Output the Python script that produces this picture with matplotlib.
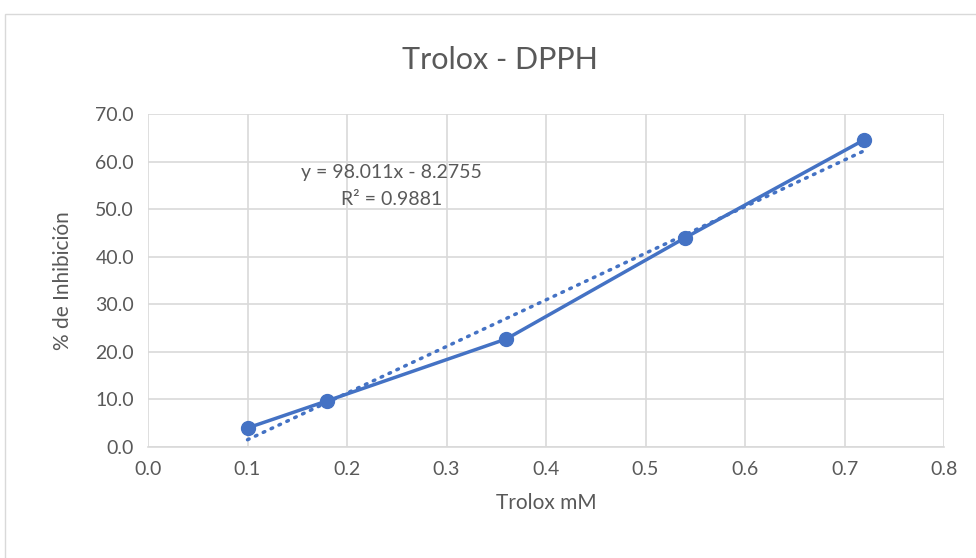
import matplotlib.pyplot as plt
import numpy as np
from matplotlib.patches import Rectangle

# ----- data ------------------------------------------------------------------
conc = [0.1, 0.18, 0.36, 0.54, 0.72]          # Trolox mM
inhib = [4.0, 9.7, 22.7, 44.0, 64.6]          # % de Inhibición
slope = 98.011
intercept = -8.2755
r2 = 0.9881
xticks = [0.0, 0.1, 0.2, 0.3, 0.4, 0.5, 0.6, 0.7, 0.8]
yticks = [0.0, 10.0, 20.0, 30.0, 40.0, 50.0, 60.0, 70.0]
# -----------------------------------------------------------------------------

blue = '#4472C4'
grey_txt = '#595959'
grid_c = '#D9D9D9'
plt.rcParams['font.family'] = ['Lato', 'DejaVu Sans']

fig = plt.figure(figsize=(9.76, 5.58), dpi=100)
fig.patches.append(Rectangle((5 / 976, -0.01), 1.0, (558 - 14) / 558 + 0.01,
                             transform=fig.transFigure, fill=False,
                             edgecolor='#D9D9D9', lw=1.0))
ax = fig.add_axes([148 / 976, 111 / 558, 796 / 976, 333 / 558])

ax.plot(conc, inhib, color=blue, lw=2.5, marker='o', ms=10, zorder=3)
xt = np.array([conc[0], conc[-1]])
ax.plot(xt, slope * xt + intercept, color=blue, lw=2.5, ls=(0, (0.5, 2.0)),
        dash_capstyle='round', zorder=2)

ax.set_xlim(0, 0.8)
ax.set_ylim(0, 70)
ax.set_xticks(xticks)
ax.set_yticks(yticks)
ax.set_xticklabels([f"{v:.1f}" for v in xticks])
ax.set_yticklabels([f"{v:.1f}" for v in yticks])
ax.grid(True, color=grid_c, lw=1.2)
ax.set_axisbelow(True)
for s in ['top', 'right', 'left']:
    ax.spines[s].set_visible(False)
ax.spines['bottom'].set_color(grid_c)
ax.spines['bottom'].set_linewidth(1.2)
ax.tick_params(length=0, labelsize=14, labelcolor=grey_txt, pad=10)

ax.set_xlabel('Trolox mM', fontsize=15, color=grey_txt, labelpad=11)
ax.set_ylabel('% de Inhibición', fontsize=15, color=grey_txt, labelpad=16)
fig.text(0.512, 0.892, 'Trolox - DPPH', ha='center', va='center',
         fontsize=22, color=grey_txt)

# trendline label
ax.text(0.245, 57.8, f"y = {slope}x - {abs(intercept)}",
        ha='center', va='center', fontsize=14, color=grey_txt)
ax.text(0.245, 52.0, f"R² = {r2}",
        ha='center', va='center', fontsize=14, color=grey_txt)

fig.savefig('out.png', dpi=100)
